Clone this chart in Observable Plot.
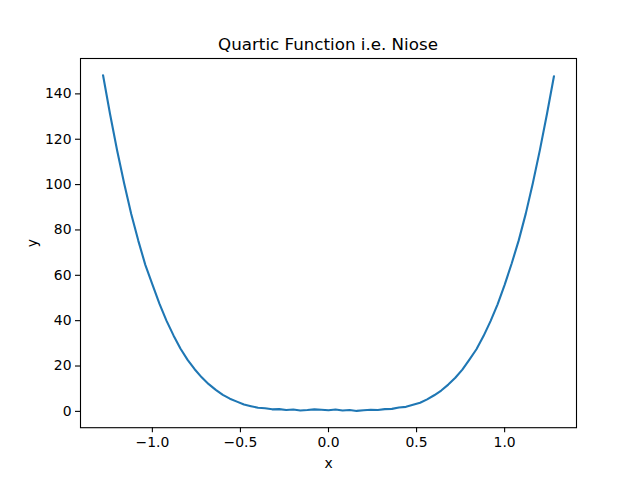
<!DOCTYPE html>
<html>
<head>
<meta charset="utf-8">
<script src="https://cdn.jsdelivr.net/npm/d3@7"></script>
<script src="https://cdn.jsdelivr.net/npm/@observablehq/plot@0.6"></script>
<style>
  body { margin: 0; background: #fff; font-family: "DejaVu Sans", sans-serif; }
  #wrap { width: 640px; height: 480px; position: relative; }
  #title { height: 48px; position: relative; }
  #title span {
    position: absolute; left: 0; width: 656px; top: 34px;
    text-align: center; font-size: 16.7px; line-height: 20px; color: #000;
  }
</style>
</head>
<body>
<div id="wrap">
  <div id="title"><span>Quartic Function i.e. Niose</span></div>
  <div id="chart"></div>
</div>
<script>
// values
const xs = [
  -1.28, -1.24, -1.20, -1.16, -1.12, -1.08, -1.04, -1.00, -0.96, -0.92, -0.88,
  -0.84, -0.80, -0.76, -0.72, -0.68, -0.64, -0.60, -0.56, -0.52, -0.48, -0.44,
  -0.40, -0.36, -0.32, -0.28, -0.24, -0.20, -0.16, -0.12, -0.08, -0.04, 0.00,
  0.04, 0.08, 0.12, 0.16, 0.20, 0.24, 0.28, 0.32, 0.36, 0.40, 0.44,
  0.48, 0.52, 0.56, 0.60, 0.64, 0.68, 0.72, 0.76, 0.80, 0.84, 0.88,
  0.92, 0.96, 1.00, 1.04, 1.08, 1.12, 1.16, 1.20, 1.24, 1.28
];
const ys = [
  148.2, 131.0, 115.0, 100.5, 87.0, 75.3, 64.6, 56.0, 47.5, 40.0, 33.5,
  27.6, 22.7, 18.6, 15.0, 12.0, 9.5, 7.3, 5.6, 4.3, 3.0, 2.3,
  1.6, 1.4, 0.9, 1.0, 0.6, 0.8, 0.4, 0.6, 0.9, 0.7, 0.5,
  0.8, 0.4, 0.6, 0.2, 0.5, 0.7, 0.6, 1.0, 1.1, 1.7, 2.0,
  2.9, 3.8, 5.3, 7.1, 9.2, 11.8, 14.8, 18.4, 22.8, 27.4, 33.2,
  39.8, 47.2, 55.8, 65.2, 75.4, 87.2, 100.6, 115.2, 131.0, 147.8
];
const xTicks = [-1.0, -0.5, 0.0, 0.5, 1.0];
const yTicks = [0, 20, 40, 60, 80, 100, 120, 140];

const data = xs.map((x, i) => ({x, y: ys[i]}));

// matplotlib-style 5% padding around the data
function pad(ext) {
  const m = (ext[1] - ext[0]) * 0.05;
  return [ext[0] - m, ext[1] + m];
}

const plot = Plot.plot({
  width: 640,
  height: 432,
  marginTop: 10,
  marginBottom: 52.8,
  marginLeft: 80,
  marginRight: 64,
  style: {fontFamily: "DejaVu Sans", fontSize: "13.9px", color: "#000", background: "#fff"},
  x: {domain: pad(d3.extent(xs)), ticks: xTicks, tickFormat: d3.format(".1f"), label: "x"},
  y: {domain: pad(d3.extent(ys)), ticks: yTicks, label: "y"},
  marks: [
    Plot.axisX({ticks: xTicks, tickFormat: d3.format(".1f"), tickSize: 5, tickPadding: 4,
      label: "x", labelAnchor: "center", labelArrow: "none", labelOffset: 40, strokeWidth: 1.1}),
    Plot.axisY({ticks: yTicks, tickSize: 5, tickPadding: 4,
      label: "y", labelAnchor: "center", labelArrow: "none", labelOffset: 53, strokeWidth: 1.1}),
    Plot.line(data, {x: "x", y: "y", stroke: "#1f77b4", strokeWidth: 2.1, strokeLinejoin: "round"}),
    Plot.frame({stroke: "#000", strokeWidth: 1.1})
  ]
});

document.querySelector("#chart").append(plot);
</script>
</body>
</html>
